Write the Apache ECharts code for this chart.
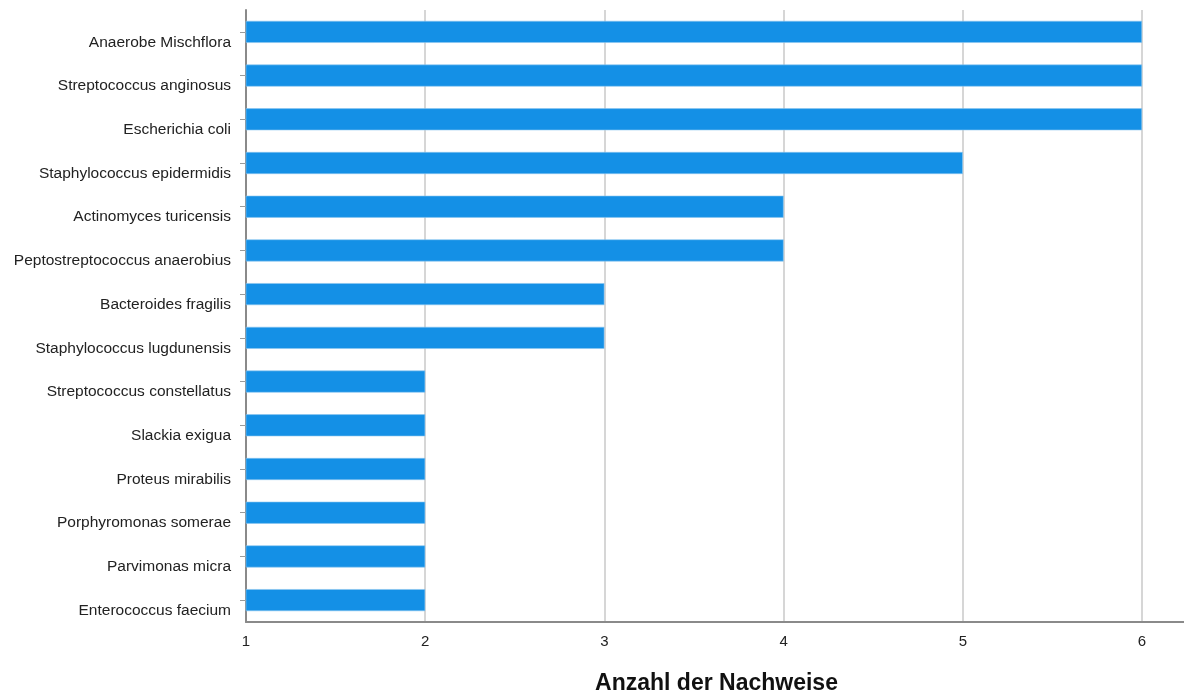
<!DOCTYPE html>
<html>
<head>
<meta charset="utf-8">
<script src="https://cdn.jsdelivr.net/npm/echarts@6/dist/echarts.min.js"></script>
<style>
html,body{margin:0;padding:0;background:#fff;overflow:hidden;}
#chart{width:1184px;height:693px;}
</style>
</head>
<body>
<div id="chart"></div>
<script>
const categories = [
  "Anaerobe Mischflora",
  "Streptococcus anginosus",
  "Escherichia coli",
  "Staphylococcus epidermidis",
  "Actinomyces turicensis",
  "Peptostreptococcus anaerobius",
  "Bacteroides fragilis",
  "Staphylococcus lugdunensis",
  "Streptococcus constellatus",
  "Slackia exigua",
  "Proteus mirabilis",
  "Porphyromonas somerae",
  "Parvimonas micra",
  "Enterococcus faecium"
];
const counts = [6, 6, 6, 5, 4, 4, 3, 3, 2, 2, 2, 2, 2, 2];
const xAxisTitle = "Anzahl der Nachweise";

const FONT = '"Liberation Sans", Arial, sans-serif';
const chart = echarts.init(document.getElementById('chart'), null, {renderer: 'canvas'});
chart.setOption({
  animation: false,
  backgroundColor: '#ffffff',
  textStyle: {fontFamily: FONT},
  grid: {left: 246, right: -3, top: 10, bottom: 71, containLabel: false, outerBoundsMode: 'none'},
  xAxis: {
    type: 'value',
    min: 1,
    max: 6.251,
    interval: 1,
    name: xAxisTitle,
    nameLocation: 'middle',
    nameGap: 50,
    nameTextStyle: {fontSize: 23, fontWeight: 'bold', color: '#111', fontFamily: FONT, padding: [0, 0, 0, 0]},
    axisLine: {show: true, lineStyle: {color: '#8a8a8a', width: 2}},
    axisTick: {show: false},
    axisLabel: {show: true, showMaxLabel: false, fontSize: 15, color: '#222', margin: 12, fontFamily: FONT,
      formatter: function (v) { return Number.isInteger(v) ? String(v) : ''; }},
    splitLine: {show: true, lineStyle: {color: '#c8c8c8', width: 1.5}}
  },
  yAxis: {
    type: 'category',
    data: categories,
    inverse: true,
    axisLine: {show: true, lineStyle: {color: '#8a8a8a', width: 2}},
    axisTick: {show: true, alignWithLabel: true, length: 6, lineStyle: {color: '#9a9a9a', width: 1}},
    axisLabel: {fontSize: 15.5, color: '#222', margin: 15, verticalAlign: 'top', lineHeight: 21, fontFamily: FONT},
    splitLine: {show: false}
  },
  series: [{
    type: 'bar',
    data: counts,
    barWidth: 22,
    itemStyle: {color: '#1490e6', borderColor: '#8cc6f0', borderWidth: 0.6}
  }]
});
</script>
</body>
</html>
